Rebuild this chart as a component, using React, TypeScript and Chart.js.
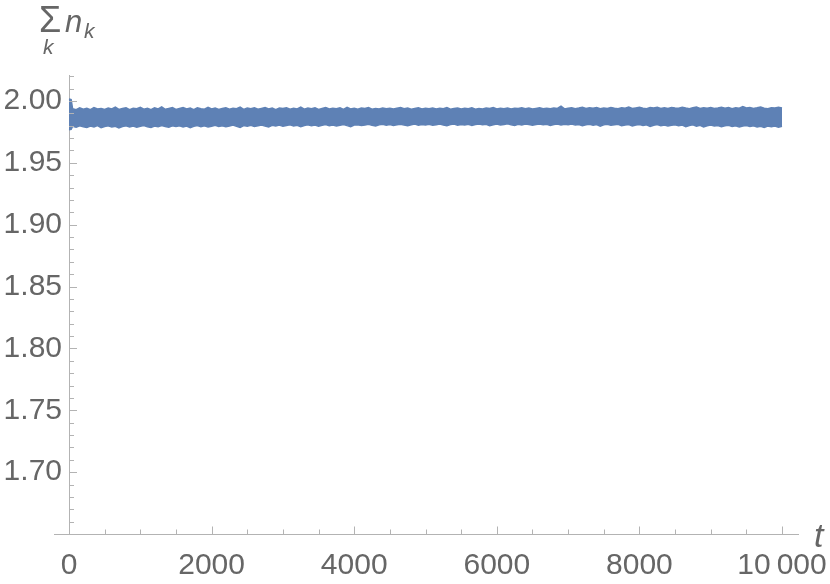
import React, { useEffect, useRef } from 'react';
import { Chart, registerables } from 'chart.js';

Chart.register(...registerables);

const BAND_COLOR = '#5E81B5';
const AXIS_COLOR = '#b3b3b3';
const LABEL_COLOR = '#666666';
const FONT = '"Liberation Sans", Arial, sans-serif';

// sampling instants (t): two samples at the very start, then every 50
const tSamples = [0, 30, ...Array.from({ length: 200 }, (_, i) => (i + 1) * 50)];

// upper edge of the fluctuating band
const upperEdge = [
  2.0016, 2.0012,
  1.9938, 1.9930, 1.9944, 1.9933, 1.9941, 1.9929, 1.9946, 1.9935, 1.9940, 1.9931,
  1.9943, 1.9936, 1.9950, 1.9932, 1.9939, 1.9945, 1.9930, 1.9942, 1.9937, 1.9948,
  1.9934, 1.9941, 1.9929, 1.9944, 1.9936, 1.9952, 1.9933, 1.9940, 1.9946, 1.9931,
  1.9939, 1.9947, 1.9935, 1.9942, 1.9930, 1.9945, 1.9938, 1.9933, 1.9949, 1.9936,
  1.9943, 1.9931, 1.9940, 1.9946, 1.9934, 1.9941, 1.9937, 1.9951, 1.9932, 1.9944,
  1.9938, 1.9945, 1.9933, 1.9940, 1.9947, 1.9935, 1.9942, 1.9930, 1.9944, 1.9939,
  1.9946, 1.9934, 1.9941, 1.9936, 1.9950, 1.9933, 1.9943, 1.9938, 1.9945, 1.9932,
  1.9940, 1.9947, 1.9935, 1.9942, 1.9937, 1.9944, 1.9931, 1.9948, 1.9936, 1.9941,
  1.9934, 1.9943, 1.9939, 1.9946, 1.9933, 1.9940, 1.9936, 1.9944, 1.9938, 1.9942,
  1.9935, 1.9941, 1.9947, 1.9937, 1.9943, 1.9934, 1.9940, 1.9945, 1.9936, 1.9942,
  1.9938, 1.9944, 1.9935, 1.9941, 1.9937, 1.9946, 1.9934, 1.9940, 1.9943, 1.9936,
  1.9942, 1.9937, 1.9945, 1.9934, 1.9940, 1.9936, 1.9944, 1.9939, 1.9947, 1.9935,
  1.9941, 1.9938, 1.9944, 1.9936, 1.9942, 1.9939, 1.9946, 1.9937, 1.9943, 1.9935,
  1.9940, 1.9945, 1.9937, 1.9942, 1.9938, 1.9943, 1.9940, 1.9958, 1.9936, 1.9941,
  1.9946, 1.9938, 1.9943, 1.9950, 1.9939, 1.9945, 1.9941, 1.9947, 1.9938, 1.9944,
  1.9940, 1.9948, 1.9942, 1.9937, 1.9946, 1.9941, 1.9951, 1.9939, 1.9944, 1.9949,
  1.9942, 1.9938, 1.9947, 1.9943, 1.9950, 1.9940, 1.9945, 1.9939, 1.9948, 1.9944,
  1.9941, 1.9949, 1.9943, 1.9938, 1.9946, 1.9952, 1.9940, 1.9945, 1.9942, 1.9948,
  1.9939, 1.9944, 1.9950, 1.9941, 1.9947, 1.9937, 1.9945, 1.9942, 1.9954, 1.9943,
  1.9947, 1.9940, 1.9945, 1.9951, 1.9942, 1.9938, 1.9946, 1.9943, 1.9949, 1.9944,
];

// lower edge of the fluctuating band
const lowerEdge = [
  1.9768, 1.9771,
  1.9795, 1.9788, 1.9799, 1.9791, 1.9786, 1.9797, 1.9790, 1.9801, 1.9785, 1.9794,
  1.9799, 1.9789, 1.9796, 1.9783, 1.9793, 1.9800, 1.9790, 1.9797, 1.9787, 1.9795,
  1.9801, 1.9792, 1.9786, 1.9798, 1.9791, 1.9802, 1.9794, 1.9788, 1.9799, 1.9793,
  1.9800, 1.9790, 1.9797, 1.9784, 1.9795, 1.9802, 1.9792, 1.9799, 1.9789, 1.9796,
  1.9803, 1.9793, 1.9800, 1.9791, 1.9798, 1.9805, 1.9795, 1.9787, 1.9801, 1.9796,
  1.9804, 1.9794, 1.9800, 1.9806, 1.9797, 1.9790, 1.9803, 1.9798, 1.9805, 1.9795,
  1.9801, 1.9807, 1.9798, 1.9804, 1.9792, 1.9802, 1.9808, 1.9799, 1.9805, 1.9796,
  1.9803, 1.9809, 1.9800, 1.9806, 1.9797, 1.9804, 1.9810, 1.9801, 1.9793, 1.9805,
  1.9808, 1.9801, 1.9806, 1.9811, 1.9803, 1.9798, 1.9807, 1.9812, 1.9804, 1.9809,
  1.9802, 1.9807, 1.9812, 1.9805, 1.9799, 1.9808, 1.9813, 1.9804, 1.9810, 1.9806,
  1.9811, 1.9803, 1.9808, 1.9813, 1.9806, 1.9800, 1.9809, 1.9814, 1.9805, 1.9810,
  1.9806, 1.9811, 1.9803, 1.9809, 1.9814, 1.9807, 1.9812, 1.9801, 1.9808, 1.9813,
  1.9805, 1.9810, 1.9815, 1.9808, 1.9802, 1.9811, 1.9806, 1.9813, 1.9809, 1.9804,
  1.9810, 1.9814, 1.9807, 1.9812, 1.9803, 1.9809, 1.9813, 1.9806, 1.9811, 1.9808,
  1.9813, 1.9805, 1.9810, 1.9800, 1.9808, 1.9812, 1.9804, 1.9809, 1.9797, 1.9807,
  1.9811, 1.9803, 1.9808, 1.9812, 1.9801, 1.9806, 1.9810, 1.9799, 1.9805, 1.9809,
  1.9802, 1.9807, 1.9795, 1.9804, 1.9809, 1.9800, 1.9806, 1.9797, 1.9803, 1.9808,
  1.9799, 1.9805, 1.9793, 1.9802, 1.9807, 1.9796, 1.9803, 1.9790, 1.9800, 1.9805,
  1.9797, 1.9802, 1.9792, 1.9799, 1.9804, 1.9794, 1.9800, 1.9789, 1.9797, 1.9802,
  1.9794, 1.9799, 1.9790, 1.9796, 1.9786, 1.9798, 1.9792, 1.9797, 1.9788, 1.9795,
];

// axis ticks
const xTickValues = [0, 500, 1000, 1500, 2000, 2500, 3000, 3500, 4000, 4500, 5000,
  5500, 6000, 6500, 7000, 7500, 8000, 8500, 9000, 9500, 10000];
const xLabelValues = [0, 2000, 4000, 6000, 8000, 10000];
const xTickLabels = ['0', '2000', '4000', '6000', '8000', '10\u2009000'];
const yTickValues = [1.66, 1.67, 1.68, 1.69, 1.7, 1.71, 1.72, 1.73, 1.74, 1.75, 1.76,
  1.77, 1.78, 1.79, 1.8, 1.81, 1.82, 1.83, 1.84, 1.85, 1.86, 1.87, 1.88, 1.89, 1.9,
  1.91, 1.92, 1.93, 1.94, 1.95, 1.96, 1.97, 1.98, 1.99, 2.0, 2.01, 2.02];
const yLabelValues = [1.7, 1.75, 1.8, 1.85, 1.9, 1.95, 2.0];
const yTickLabels = ['1.70', '1.75', '1.80', '1.85', '1.90', '1.95', '2.00'];

const near = (a: number, b: number) => Math.abs(a - b) < 1e-6;

const innerTicksPlugin = {
  id: 'innerTicks',
  afterDraw(chart: any) {
    const { ctx, chartArea } = chart;
    const xs = chart.scales.x;
    const ys = chart.scales.y;
    ctx.save();
    ctx.strokeStyle = AXIS_COLOR;
    ctx.lineWidth = 1;
    const by = Math.round(chartArea.bottom) + 0.5;
    ctx.beginPath();
    ctx.moveTo(54, by);
    ctx.lineTo(chartArea.left, by);
    ctx.stroke();
    yTickValues.forEach((v) => {
      const major = yLabelValues.some((l) => near(l, v));
      const py = Math.round(ys.getPixelForValue(v)) + 0.5;
      ctx.beginPath();
      ctx.moveTo(chartArea.left, py);
      ctx.lineTo(chartArea.left + (major ? 8 : 5), py);
      ctx.stroke();
    });
    xTickValues.forEach((v) => {
      const major = xLabelValues.includes(v);
      const px = Math.round(xs.getPixelForValue(v)) + 0.5;
      ctx.beginPath();
      ctx.moveTo(px, by);
      ctx.lineTo(px, by - (major ? 8 : 5));
      ctx.stroke();
    });
    // axis titles
    ctx.fillStyle = LABEL_COLOR;
    ctx.textBaseline = 'alphabetic';
    ctx.textAlign = 'left';
    ctx.font = `italic 34px ${FONT}`;
    ctx.fillText('t', 814, 547);
    ctx.font = `36px ${FONT}`;
    ctx.fillText('\u03A3', 39, 32);
    ctx.font = `italic 31px ${FONT}`;
    ctx.fillText('n', 65, 32);
    ctx.font = `italic 21px ${FONT}`;
    ctx.fillText('k', 84, 38);
    ctx.fillText('k', 43, 54);
    ctx.restore();
  },
};

export default function App() {
  const ref = useRef<HTMLCanvasElement | null>(null);

  useEffect(() => {
    document.body.style.margin = '0';
    const canvas = ref.current;
    if (!canvas) return;
    const upperData = tSamples.map((t, i) => ({ x: t, y: upperEdge[i] }));
    const lowerData = tSamples.map((t, i) => ({ x: t, y: lowerEdge[i] }));
    const chart = new Chart(canvas, {
      type: 'line',
      data: {
        datasets: [
          {
            data: upperData,
            borderColor: BAND_COLOR,
            backgroundColor: BAND_COLOR,
            borderWidth: 1.5,
            pointRadius: 0,
            fill: false,
            tension: 0,
            clip: 4,
          } as any,
          {
            data: lowerData,
            borderColor: BAND_COLOR,
            backgroundColor: BAND_COLOR,
            borderWidth: 1.5,
            pointRadius: 0,
            fill: '-1',
            tension: 0,
            clip: 4,
          } as any,
        ],
      },
      options: {
        animation: false,
        responsive: false,
        devicePixelRatio: 1,
        layout: { padding: { top: 75, right: 32, left: 0, bottom: 0 } },
        plugins: {
          legend: { display: false },
          tooltip: { enabled: false },
        },
        scales: {
          x: {
            type: 'linear',
            bounds: 'data',
            min: 0,
            max: 10224,
            border: { display: true, color: AXIS_COLOR, width: 1 },
            grid: { display: false, drawTicks: false },
            afterBuildTicks: (s: any) => {
              s.ticks = xLabelValues.map((v) => ({ value: v }));
            },
            ticks: {
              autoSkip: false,
              maxRotation: 0,
              minRotation: 0,
              padding: 14,
              color: LABEL_COLOR,
              font: { family: FONT, size: 30 },
              callback: (v: any) => {
                const i = xLabelValues.findIndex((x) => near(x, Number(v)));
                return i >= 0 ? xTickLabels[i] : '';
              },
            },
            afterFit: (s: any) => {
              s.height = 50;
              s.paddingLeft = 0;
              s.paddingRight = 0;
            },
          },
          y: {
            type: 'linear',
            bounds: 'data',
            min: 1.65,
            max: 2.021,
            border: { display: true, color: AXIS_COLOR, width: 1 },
            grid: { display: false, drawTicks: false },
            afterBuildTicks: (s: any) => {
              s.ticks = yLabelValues.map((v) => ({ value: v }));
            },
            ticks: {
              autoSkip: false,
              padding: 7,
              color: LABEL_COLOR,
              font: { family: FONT, size: 30 },
              callback: (v: any) => {
                const i = yLabelValues.findIndex((y) => near(y, Number(v)));
                return i >= 0 ? yTickLabels[i] : '';
              },
            },
            afterFit: (s: any) => {
              s.width = 69;
              s.paddingTop = 0;
              s.paddingBottom = 0;
            },
          },
        },
      },
      plugins: [innerTicksPlugin],
    });
    return () => chart.destroy();
  }, []);

  return (
    <div style={{ position: 'absolute', left: 0, top: 0, width: 830, height: 584 }}>
      <canvas ref={ref} width={830} height={584} style={{ width: 830, height: 584 }} />
    </div>
  );
}
